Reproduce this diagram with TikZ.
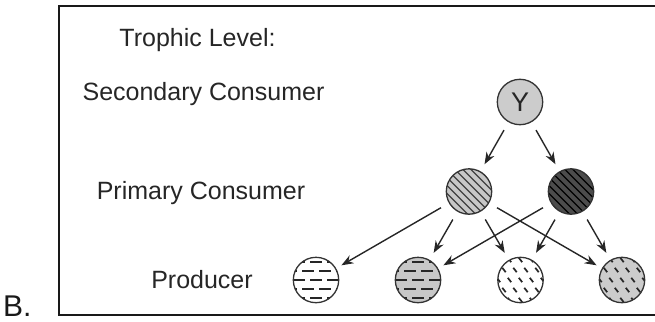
\documentclass[tikz,border=0pt]{standalone}
\usepackage{fontspec}
\setmainfont{Liberation Sans}
\usetikzlibrary{arrows.meta}

\tikzset{
  level/.style={font=\fontsize{25}{30}\selectfont, text=black!85, anchor=base},
  organism/.style={circle, draw=black!80, line width=1.3pt, minimum size=45.4pt, inner sep=0pt},
  feeds/.style={-{Stealth[length=12pt,width=9pt]}, line width=1.4pt, draw=black!85,
    shorten <=9pt, shorten >=8pt},
  % diagonal hatch
  hatched/.style={path picture={
    \begin{scope}[shift={(path picture bounding box.center)},x=1pt,y=1pt]
      \foreach \d in {-40,-32,...,40}
        \draw[line width=1.2pt,#1] (\d-30,30) -- (\d+30,-30);
    \end{scope}}},
  % rows of dashes
  dashed rows/.style={path picture={
    \begin{scope}[shift={(path picture bounding box.center)},x=1pt,y=1pt]
      \foreach \r in {18,0,-18}
        \draw[line width=1.6pt,draw=black!85,dash pattern=on 12pt off 5pt] (-23,\r) -- (25,\r);
      \foreach \r in {9,-9}
        \draw[line width=1.6pt,draw=black!85,dash pattern=on 12pt off 5pt] (-31,\r) -- (25,\r);
    \end{scope}}},
  % short slanted marks
  flecked/.style={path picture={
    \begin{scope}[shift={(path picture bounding box.center)},x=1pt,y=1pt]
      \foreach \i in {-3,...,3}{
        \foreach \j in {-3,...,3}{
          \draw[line width=1.7pt,draw=black!85]
            (\i*11+\j*5.5-1.7,\j*10+2.2) -- (\i*11+\j*5.5+1.7,\j*10-2.2);
        }}
    \end{scope}}}
}

\begin{document}
\begin{tikzpicture}[x=1pt,y=-1pt]
\useasboundingbox (0,0) rectangle (655,321);
% frame (right side runs off the page)
\draw[line width=1.3pt,black!90] (662,6) -- (59,6) -- (59,315) -- (662,315);

% level labels
\node[level] (lvl) at (197.5,46) {Trophic Level:};
\node[level] (sec) at (203.5,100) {Secondary Consumer};
\node[level] (prim) at (201,199) {Primary Consumer};
\node[level] (prod) at (202,288) {Producer};
\node[font=\fontsize{30}{34}\selectfont,text=black!90,anchor=base west,inner sep=0pt] (part) at (3,316) {B.};

% organisms
\node[organism,fill=black!20,font=\fontsize{27}{30}\selectfont,text=black!85] (cons2) at (520,102) {Y};
\node[organism,fill=black!22,hatched=black!75] (cons1a) at (469,191.5) {};
\node[organism,fill=black!70,hatched=black] (cons1b) at (571,191.5) {};
\node[organism,fill=white,dashed rows] (prod1) at (316,280) {};
\node[organism,fill=black!22,dashed rows] (prod2) at (418,280) {};
\node[organism,fill=white,flecked] (prod3) at (520.5,280) {};
\node[organism,fill=black!20,flecked] (prod4) at (622,280) {};

% who eats whom
\draw[feeds] (cons2) -- (cons1a);
\draw[feeds] (cons2) -- (cons1b);
\draw[feeds,shorten >=6pt] (cons1a) -- (prod1);
\draw[feeds] (cons1a) -- (prod2);
\draw[feeds] (cons1a) -- (prod3);
\draw[feeds,shorten >=6pt] (cons1a) -- (prod4);
\draw[feeds,shorten >=6pt] (cons1b) -- (prod2);
\draw[feeds] (cons1b) -- (prod3);
\draw[feeds] (cons1b) -- (prod4);

\end{tikzpicture}
\end{document}
